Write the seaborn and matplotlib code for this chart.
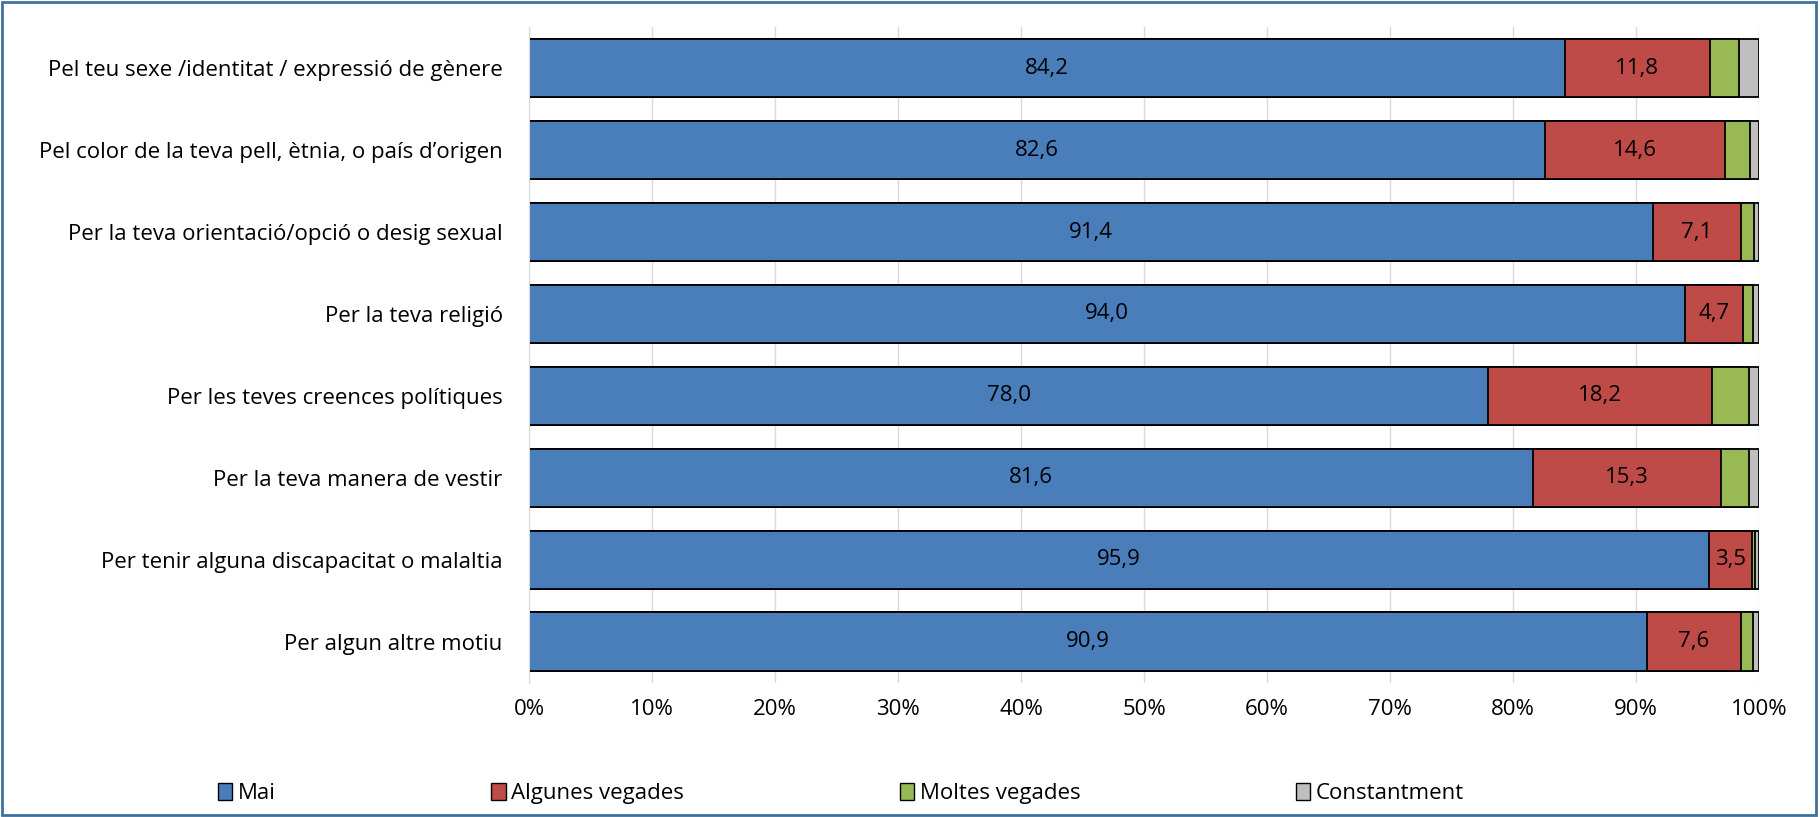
import pandas as pd
import matplotlib.pyplot as plt
import seaborn as sns
from matplotlib.patches import Rectangle, Patch

categories = [
    "Pel teu sexe /identitat / expressió de gènere",
    "Pel color de la teva pell, ètnia, o país d\u2019origen",
    "Per la teva orientació/opció o desig sexual",
    "Per la teva religió",
    "Per les teves creences polítiques",
    "Per la teva manera de vestir",
    "Per tenir alguna discapacitat o malaltia",
    "Per algun altre motiu",
]
mai = [84.2, 82.6, 91.4, 94.0, 78.0, 81.6, 95.9, 90.9]
algunes = [11.8, 14.6, 7.1, 4.7, 18.2, 15.3, 3.5, 7.6]
moltes = [2.4, 2.1, 1.1, 0.8, 3.0, 2.3, 0.3, 1.0]
constant = [1.6, 0.7, 0.4, 0.5, 0.8, 0.8, 0.3, 0.5]

series_names = ["Mai", "Algunes vegades", "Moltes vegades", "Constantment"]
colors = ["#4A7EBB", "#BE4B48", "#98B954", "#BFBFBF"]

df = pd.DataFrame({"cat": categories, "Mai": mai, "Algunes vegades": algunes,
                   "Moltes vegades": moltes, "Constantment": constant})
totals = df[series_names].sum(axis=1)
for s in series_names:
    df[s] = df[s] / totals * 100
cum = df[series_names].cumsum(axis=1)

sns.set_style("white")
plt.rcParams["font.family"] = ["Open Sans", "DejaVu Sans"]
plt.rcParams["text.color"] = "black"
plt.rcParams["xtick.color"] = "black"
plt.rcParams["ytick.color"] = "black"

FS = 16

fig = plt.figure(figsize=(18.2, 8.17), dpi=100)
ax = fig.add_axes([0.2907, 0.1646, 0.6758, 0.802])

# stacked bars: draw cumulative totals from the longest down
for s, c in reversed(list(zip(series_names, colors))):
    sns.barplot(x=cum[s], y=df["cat"], orient="h", color=c, ax=ax,
                width=0.71, edgecolor="black", linewidth=1.3, saturation=1)

# value labels for the two largest segments
for i in range(len(categories)):
    ax.text(df["Mai"][i] / 2, i, f"{mai[i]:.1f}".replace(".", ","),
            ha="center", va="center", fontsize=FS)
    ax.text(df["Mai"][i] + df["Algunes vegades"][i] / 2, i,
            f"{algunes[i]:.1f}".replace(".", ","),
            ha="center", va="center", fontsize=FS)

ax.set_xlim(0, 100)
ax.set_ylim(7.5, -0.5)
ax.set_xticks(range(0, 101, 10))
ax.set_xticklabels([f"{v}%" for v in range(0, 101, 10)], fontsize=FS)
ax.tick_params(axis="y", labelsize=FS, length=0, pad=19)
ax.tick_params(axis="x", length=0, pad=12)
ax.set_xlabel("")
ax.set_ylabel("")
ax.set_axisbelow(True)
ax.xaxis.grid(True, color="#D9D9D9", linewidth=1)
for side in ["top", "right", "bottom"]:
    ax.spines[side].set_visible(False)
ax.spines["left"].set_color("#D9D9D9")

handles = [Patch(facecolor=c, edgecolor="black", linewidth=1) for c in colors]
fig.legend(handles, series_names, loc="center", bbox_to_anchor=(0.462, 0.029),
           ncol=4, frameon=False, fontsize=FS, handlelength=0.65,
           handleheight=0.8, handletextpad=0.25, columnspacing=9.7)

fig.patches.append(Rectangle((0.001, 0.002), 0.997, 0.995, transform=fig.transFigure,
                             fill=False, edgecolor="#41719C", linewidth=2))

fig.savefig("out.png", dpi=100)
